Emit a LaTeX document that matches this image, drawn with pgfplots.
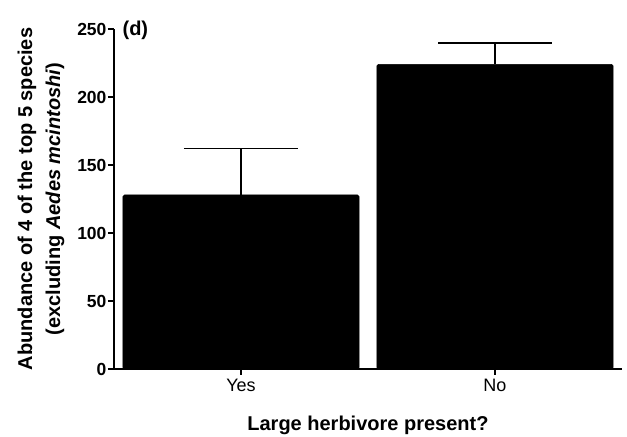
\documentclass[border=0pt]{standalone}
\usepackage{pgfplots}
\pgfplotsset{compat=1.18}
\usepackage{fontspec}
\setmainfont{Liberation Sans}

\begin{document}
\begin{tikzpicture}
\begin{axis}[
    name=ax,
    scale only axis,
    width=508pt, height=340pt,
    ybar,
    bar width=0.93,
    xmin=-0.5, xmax=1.5,
    ymin=0, ymax=250,
    axis lines=left,
    axis line style={line width=1.6pt, -},
    xtick=data,
    xticklabels={Yes,No},
    ytick={0,50,100,150,200,250},
    tick align=outside,
    major tick length=6pt,
    tick style={line width=1.6pt, black},
    /pgf/number format/assume math mode=true,
    x tick label style={font=\fontsize{18}{21}\selectfont, yshift=-1pt},
    y tick label style={font=\bfseries\fontsize{17.5}{21}\selectfont, xshift=2pt},
    xlabel={Large herbivore present?},
    xlabel style={font=\bfseries\fontsize{20}{24}\selectfont, at={(axis description cs:0.5,-0.165)}, anchor=center},
    ylabel={Abundance of 4 of the top 5 species\\(excluding \textit{Aedes mcintoshi})},
    ylabel style={font=\bfseries\fontsize{20}{28}\selectfont, align=center, at={(axis description cs:-0.1437,0.5)}, anchor=center},
    clip=false,
]
\addplot[fill=black, draw=black, rounded corners=1.5pt,
    error bars/.cd, y dir=plus, y explicit,
    error bar style={line width=1.6pt, black},
    error mark options={rotate=90, line width=1.6pt, mark size=57pt, black}]
  coordinates {
    (0,128) +- (0,34)
    (1,224) +- (0,15.5)
  };
\node[anchor=west, font=\bfseries\fontsize{20}{24}\selectfont] at (axis description cs:0.010,0.997) {(d)};
\end{axis}
\pgfresetboundingbox
\path ([xshift=-114pt,yshift=-68pt]ax.south west) rectangle ([xshift=5pt,yshift=29pt]ax.north east);
\end{tikzpicture}
\end{document}
